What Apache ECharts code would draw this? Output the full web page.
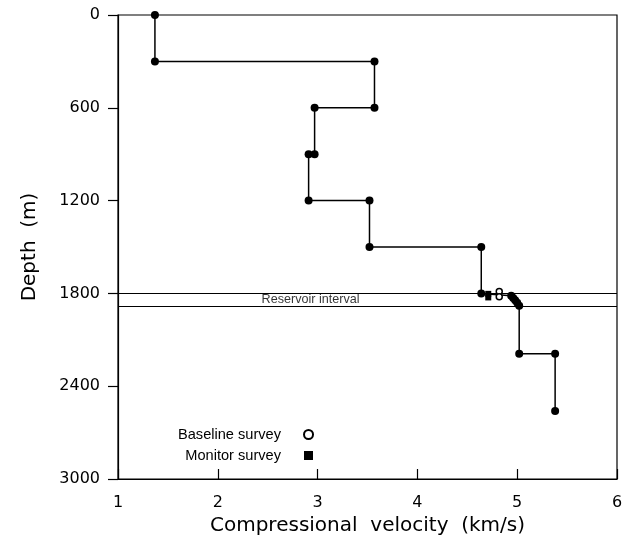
<!DOCTYPE html>
<html>
<head>
<meta charset="utf-8">
<script src="https://cdn.jsdelivr.net/npm/echarts@6/dist/echarts.min.js"></script>
<style>html,body{margin:0;padding:0;background:#fff;}#c{width:631px;height:546px;}</style>
</head>
<body>
<div id="c"></div>
<script>
// Velocity profile (km/s, depth m)
const profileVelocity = [1.37,1.37,3.57,3.57,2.97,2.97,2.91,2.91,3.52,3.52,4.64,4.64,4.94,4.96,4.98,5.00,5.02,5.02,5.38,5.38];
const profileDepth    = [0,300,300,600,600,900,900,1200,1200,1500,1500,1800,1815,1830,1845,1860,1880,2190,2190,2560];
const baselineVelocity = [4.82,4.82];
const baselineDepth    = [1787,1822];
const monitorVelocity  = [4.71,4.71];
const monitorDepth     = [1803,1826];
const reservoirTop = 1800;
const reservoirBase = 1880;
const reservoirLabel = 'Reservoir interval';
const reservoirLabelVelocity = 2.93;
const xTicks = [1,2,3,4,5,6];
const yTicks = [0,600,1200,1800,2400,3000];

const zip = (a,b) => a.map((v,i)=>[v,b[i]]);
const chart = echarts.init(document.getElementById('c'), null, {renderer:'canvas'});
chart.setOption({
  animation:false,
  backgroundColor:'#fff',
  grid:{left:118, top:15, right:14, bottom:67, show:true, borderColor:'#000', borderWidth:1.2, backgroundColor:'transparent'},
  legend:{
    data:['Baseline survey','Monitor survey'],
    orient:'vertical', align:'right', left:173, top:422,
    itemWidth:9, itemHeight:9, itemGap:6,
    textStyle:{fontFamily:'Liberation Sans', fontSize:14.6, color:'#000', padding:[0,18,0,0]}
  },
  xAxis:{
    type:'value', min:xTicks[0], max:xTicks[xTicks.length-1], interval:1,
    name:'Compressional  velocity  (km/s)', nameLocation:'middle', nameGap:33,
    nameTextStyle:{fontFamily:'DejaVu Sans', fontSize:20, color:'#000'},
    axisLine:{onZero:false, lineStyle:{color:'#000', width:1.2}},
    axisTick:{inside:true, length:10, lineStyle:{color:'#000', width:1.2}},
    axisLabel:{fontFamily:'DejaVu Sans', fontSize:16, color:'#000', margin:16, formatter:v=>String(v)},
    splitLine:{show:false}
  },
  yAxis:{
    type:'value', inverse:true, min:yTicks[0], max:yTicks[yTicks.length-1], interval:600,
    name:'Depth  (m)', nameLocation:'middle', nameGap:78, nameRotate:90,
    nameTextStyle:{fontFamily:'DejaVu Sans', fontSize:20, color:'#000'},
    axisLine:{onZero:false, lineStyle:{color:'#000', width:1.2}},
    axisTick:{inside:false, length:10, lineStyle:{color:'#000', width:1.2}},
    axisLabel:{fontFamily:'DejaVu Sans', fontSize:16, color:'#000', margin:18, formatter:v=>String(v)},
    splitLine:{show:false}
  },
  series:[
    {
      name:'Reservoir', type:'scatter', silent:true, symbol:'circle', symbolSize:1,
      itemStyle:{color:'rgba(0,0,0,0)'},
      data:[[reservoirLabelVelocity,(reservoirTop+reservoirBase)/2]],
      label:{show:true, position:'inside', formatter:reservoirLabel, fontFamily:'Liberation Sans', fontSize:12.6, color:'#000'},
      labelLayout:{hideOverlap:false},
      markLine:{silent:true, symbol:'none', label:{show:false},
        lineStyle:{color:'#000', width:1.2, type:'solid'},
        data:[{yAxis:reservoirTop},{yAxis:reservoirBase}]},
      z:1
    },
    {
      name:'Profile', type:'line', data:zip(profileVelocity, profileDepth),
      symbol:'circle', symbolSize:8, showSymbol:true,
      itemStyle:{color:'#000'}, lineStyle:{color:'#000', width:1.5}, z:3
    },
    {
      name:'Monitor survey', type:'scatter', data:zip(monitorVelocity, monitorDepth),
      symbol:'rect', symbolSize:[6,6], itemStyle:{color:'#000', opacity:1}, z:4
    },
    {
      name:'Baseline survey', type:'scatter', data:zip(baselineVelocity, baselineDepth),
      symbol:'circle', symbolSize:6, itemStyle:{color:'#fff', borderColor:'#000', borderWidth:1.5, opacity:1}, z:5
    }
  ]
});
</script>
</body>
</html>
